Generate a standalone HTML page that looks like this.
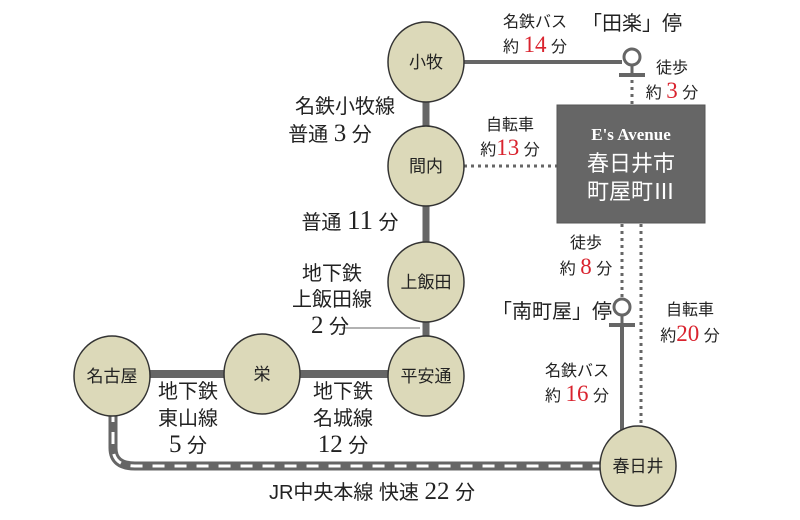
<!DOCTYPE html>
<html><head><meta charset="utf-8"><style>
html,body{margin:0;padding:0;background:#fff;}
svg{display:block;font-family:"Liberation Serif","Noto Serif CJK SC","Noto Sans CJK JP",serif;}
.s{font-family:"Liberation Sans","Noto Sans CJK JP",sans-serif;}
.r{fill:#d9232e;}
</style></head><body>
<svg width="800" height="520" viewBox="0 0 800 520" xmlns="http://www.w3.org/2000/svg">
<g stroke="#666" fill="none">
<line x1="426" y1="60" x2="426" y2="376" stroke-width="7"/>
<line x1="112" y1="374" x2="426" y2="374" stroke-width="8"/>
<line x1="426" y1="62" x2="622" y2="62" stroke-width="4"/>
<line x1="342" y1="328" x2="420" y2="328" stroke-width="1"/>
<path d="M113 410 V448 Q113 466 135 466 H610" stroke-width="9"/>
<path d="M113 410 V448 Q113 466 135 466 H610" stroke="#fff" stroke-width="3" stroke-dasharray="12 10"/>
<line x1="464" y1="166" x2="557" y2="166" stroke-width="3" stroke-dasharray="3 4"/>
<line x1="632" y1="80" x2="632" y2="105" stroke-width="3" stroke-dasharray="3 4"/>
<line x1="622" y1="224" x2="622" y2="298" stroke-width="3" stroke-dasharray="3 4"/>
<line x1="641" y1="224" x2="641" y2="430" stroke-width="3" stroke-dasharray="3 4"/>
<line x1="622" y1="326" x2="622" y2="430" stroke-width="4"/>
<circle cx="632" cy="57" r="8" stroke-width="3" fill="#fff"/>
<line x1="632" y1="65" x2="632" y2="74" stroke-width="3"/>
<line x1="619" y1="75" x2="645" y2="75" stroke-width="4"/>
<circle cx="622" cy="307" r="8" stroke-width="3" fill="#fff"/>
<line x1="622" y1="315" x2="622" y2="323" stroke-width="3"/>
<line x1="609" y1="325" x2="635" y2="325" stroke-width="4"/>
</g>
<g fill="#dcd9b9" stroke="#333" stroke-width="1.5">
<ellipse cx="426" cy="62" rx="38" ry="40"/>
<ellipse cx="426" cy="166" rx="38" ry="40"/>
<ellipse cx="426" cy="282" rx="38" ry="40"/>
<ellipse cx="426" cy="376" rx="38" ry="40"/>
<ellipse cx="262" cy="374" rx="38" ry="40"/>
<ellipse cx="112" cy="376" rx="38" ry="40"/>
<ellipse cx="638" cy="466" rx="38" ry="40"/>
</g>
<rect x="557" y="105" width="148" height="118" fill="#666" stroke="#555"/>
<g class="s" font-size="17" text-anchor="middle" fill="#222">
<text x="426" y="68">小牧</text>
<text x="426" y="172">間内</text>
<text x="426" y="288">上飯田</text>
<text x="426" y="382">平安通</text>
<text x="262" y="380">栄</text>
<text x="112" y="382">名古屋</text>
<text x="638" y="472">春日井</text>
</g>
<g text-anchor="middle" fill="#fff">
<text x="631" y="140" font-size="17" font-weight="bold">E's Avenue</text>
<text x="631" y="171" font-size="22" class="s">春日井市</text>
<text x="631" y="199" font-size="22" class="s">町屋町Ⅲ</text>
</g>
<g class="s" fill="#222" text-anchor="middle" font-size="16">
<text x="535" y="27">名鉄バス</text>
<text x="535" y="52">約 <tspan class="r" font-size="23" font-family="Liberation Serif">14</tspan> 分</text>
<text x="632" y="30" font-size="20">「田楽」停</text>
<text x="672" y="73">徒歩</text>
<text x="672" y="98">約 <tspan class="r" font-size="23" font-family="Liberation Serif">3</tspan> 分</text>
<text x="510" y="130">自転車</text>
<text x="510" y="155">約<tspan class="r" font-size="23" font-family="Liberation Serif">13</tspan> 分</text>
<text x="586" y="248">徒歩</text>
<text x="586" y="274">約 <tspan class="r" font-size="23" font-family="Liberation Serif">8</tspan> 分</text>
<text x="552" y="318" font-size="20">「南町屋」停</text>
<text x="690" y="315">自転車</text>
<text x="690" y="341">約<tspan class="r" font-size="23" font-family="Liberation Serif">20</tspan> 分</text>
<text x="577" y="376">名鉄バス</text>
<text x="577" y="401">約 <tspan class="r" font-size="23" font-family="Liberation Serif">16</tspan> 分</text>
</g>
<g class="s" fill="#222" text-anchor="middle" font-size="20">
<text x="345" y="113">名鉄小牧線</text>
<text x="330" y="141">普通 <tspan font-size="25" font-family="Liberation Serif">3</tspan> 分</text>
<text x="350" y="229">普通 <tspan font-size="27" font-family="Liberation Serif">11</tspan> 分</text>
<text x="332" y="280">地下鉄</text>
<text x="332" y="306">上飯田線</text>
<text x="330" y="333"><tspan font-size="25" font-family="Liberation Serif">2</tspan> 分</text>
<text x="188" y="398">地下鉄</text>
<text x="188" y="425">東山線</text>
<text x="188" y="452"><tspan font-size="25" font-family="Liberation Serif">5</tspan> 分</text>
<text x="343" y="398">地下鉄</text>
<text x="343" y="425">名城線</text>
<text x="343" y="452"><tspan font-size="25" font-family="Liberation Serif">12</tspan> 分</text>
<text x="372" y="499">JR中央本線 快速 <tspan font-size="25" font-family="Liberation Serif">22</tspan> 分</text>
</g>
</svg>
</body></html>
